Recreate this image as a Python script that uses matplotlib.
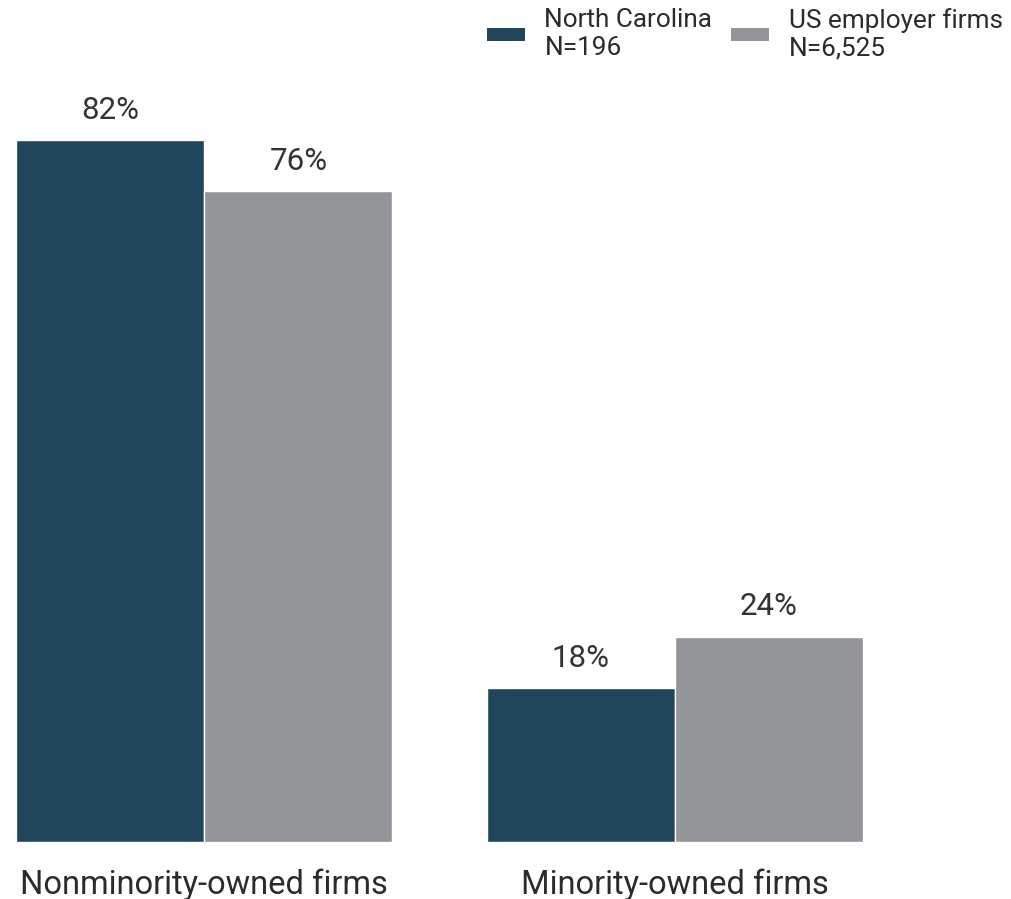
import matplotlib.pyplot as plt
from matplotlib.patches import Patch
import numpy as np

plt.rcParams['font.family'] = ['Roboto', 'DejaVu Sans']

categories = ["Nonminority-owned firms", "Minority-owned firms"]
series = ["North Carolina\nN=196", "US employer firms\nN=6,525"]
nc_values = [82, 18]
us_values = [76, 24]
colors = ["#21465B", "#939598"]

W, H = 1011, 899
fig = plt.figure(figsize=(W / 100, H / 100), dpi=100)
ax = fig.add_axes([16 / W, 57 / H, 847 / W, 702 / H])

x = np.arange(len(categories))
w = 0.4
b1 = ax.bar(x - w / 2, nc_values, w, color=colors[0], edgecolor="white", linewidth=1)
b2 = ax.bar(x + w / 2, us_values, w, color=colors[1], edgecolor="white", linewidth=1)

for bars in (b1, b2):
    ax.bar_label(bars, labels=[f"{v}%" for v in bars.datavalues], padding=11,
                 fontsize=22.5, color="#333333")

ax.set_xlim(-0.4, 1.4)
ax.set_ylim(0, 82)
ax.set_xticks(x)
ax.set_xticklabels(categories, fontsize=23.5, color="#2b2b2b")
ax.tick_params(axis="x", length=0, pad=19)
ax.set_yticks([])
for s in ax.spines.values():
    s.set_visible(False)

handles = [Patch(facecolor=c, edgecolor="none") for c in colors]
fig.legend(handles, series, loc="upper left", bbox_to_anchor=(487 / W, 1 - 8 / H),
           ncol=2, frameon=False, fontsize=18.8,
           handlelength=1.45, handleheight=0.42,
           handletextpad=0.75, columnspacing=0.72, borderpad=0, borderaxespad=0,
           labelspacing=0, labelcolor="#2b2b2b")

fig.savefig("out.png", dpi=100)
